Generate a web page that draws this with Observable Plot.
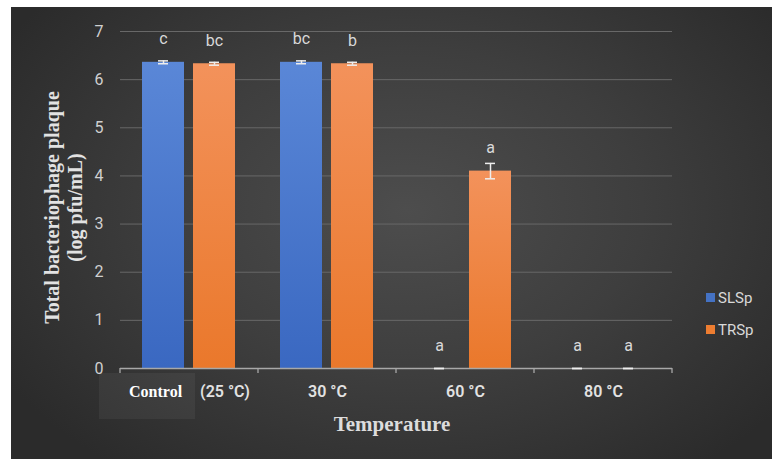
<!DOCTYPE html>
<html>
<head>
<meta charset="utf-8">
<script src="https://cdn.jsdelivr.net/npm/d3@7"></script>
<script src="https://cdn.jsdelivr.net/npm/@observablehq/plot@0.6"></script>
<style>
html, body { margin: 0; padding: 0; background: #ffffff; }
#wrap {
  position: absolute; left: 11px; top: 7px; width: 761px; height: 452px; overflow: hidden;
  background: radial-gradient(ellipse 62% 72% at 52% 45%, #4d4d4d 0%, #3e3e3e 50%, #2b2b2b 100%);
}
#ctrlbox { position: absolute; left: 88px; top: 366px; width: 96px; height: 46px; background: rgba(255,255,255,0.05); }
#chart { position: absolute; left: 0; top: 0; }
#legend { position: absolute; left: 695px; top: 282px; font-family: Roboto, "Liberation Sans", sans-serif; font-size: 15px; color: #d9d9d9; }
#legend .item { display: flex; align-items: center; height: 17px; margin-bottom: 15px; }
#legend .sw { width: 9px; height: 9px; margin-right: 3px; }
</style>
</head>
<body>
<div id="wrap">
  <div id="ctrlbox"></div>
  <div id="chart"></div>
  <div id="legend"></div>
</div>
<script>
// ---- data ----
const categories = ["Control (25 °C)", "30 °C", "60 °C", "80 °C"];
const seriesNames = ["SLSp", "TRSp"];
const seriesColors = ["#4472C4", "#ED7D31"];
const slspValues = [6.36, 6.36, 0, 0];
const trspValues = [6.33, 6.33, 4.10, 0];
const slspErrors = [0.03, 0.03, 0, 0];
const trspErrors = [0.03, 0.03, 0.16, 0];
const slspLetters = ["c", "bc", "a", "a"];
const trspLetters = ["bc", "b", "a", "a"];
const yTicks = [0, 1, 2, 3, 4, 5, 6, 7];
const yTitle = ["Total bacteriophage plaque", "(log pfu/mL)"];
const xTitle = "Temperature";

const data = categories.flatMap((c, i) => [
  {temp: c, series: seriesNames[0], value: slspValues[i], err: slspErrors[i], letter: slspLetters[i]},
  {temp: c, series: seriesNames[1], value: trspValues[i], err: trspErrors[i], letter: trspLetters[i]}
]);

const sans = "Roboto, 'Liberation Sans', sans-serif";
const serif = "'Liberation Serif', 'DejaVu Serif', serif";

const chart = Plot.plot({
  width: 761, height: 452,
  marginLeft: 109, marginRight: 100, marginTop: 24, marginBottom: 91,
  style: {background: "transparent", color: "#d9d9d9", fontFamily: sans, overflow: "visible"},
  fx: {domain: categories, padding: 0, label: null, axis: null},
  x: {domain: seriesNames, paddingInner: 0.173, paddingOuter: 0.4135, axis: null},
  y: {domain: [0, 7], axis: null},
  color: {domain: seriesNames, range: ["url(#gSLSp)", "url(#gTRSp)"]},
  marks: [
    Plot.gridY(yTicks.slice(1), {stroke: "#686868", strokeOpacity: 1, strokeWidth: 1}),
    Plot.axisY(yTicks, {tickSize: 0, tickPadding: 17, fontSize: 16, fill: "#d0d0d0", label: null}),
    Plot.barY(data, {fx: "temp", x: "series", y: "value", fill: "series"}),
    Plot.ruleY([0], {stroke: "#a8a8a8", strokeWidth: 1.3}),
    Plot.ruleX(data, {fx: "temp", x: "series", y1: d => d.value - d.err, y2: d => d.value + d.err, stroke: "#eeeeee", strokeWidth: 1.5}),
    Plot.tickY(data, {fx: "temp", x: "series", y: d => d.value + d.err, stroke: "#eeeeee", strokeWidth: 1.5, insetLeft: 16, insetRight: 16}),
    Plot.tickY(data, {fx: "temp", x: "series", y: d => d.value - d.err, stroke: "#eeeeee", strokeWidth: 1.5, insetLeft: 16, insetRight: 16}),
    Plot.text(data, {fx: "temp", x: "series", y: "value", text: "letter", dy: -18, lineAnchor: "bottom", fontSize: 16, fill: "#d9d9d9"}),
    Plot.axisFx({anchor: "bottom", tickSize: 0, tickPadding: 17, fontSize: 16, fontWeight: 600, fill: "#e2e2e2", label: null})
  ]
});

const svg = d3.select(chart);
// gradients for bars
const defs = svg.insert("defs", ":first-child");
const grads = [["gSLSp", "#5a87d7", "#3a68c1"], ["gTRSp", "#f3925b", "#ea782b"]];
for (const [id, top, bottom] of grads) {
  const g = defs.append("linearGradient").attr("id", id).attr("x1", 0).attr("y1", 0).attr("x2", 0).attr("y2", 1);
  g.append("stop").attr("offset", "0%").attr("stop-color", top);
  g.append("stop").attr("offset", "100%").attr("stop-color", bottom);
}

// category boundary ticks on the x axis, from the fx scale
const fx = chart.scale("fx"), ys = chart.scale("y");
const y0 = ys.apply(0);
const bounds = categories.map(c => fx.apply(c)).concat([fx.apply(categories[categories.length - 1]) + fx.bandwidth]);
svg.append("g").selectAll("line").data(bounds).join("line")
  .attr("x1", d => d).attr("x2", d => d).attr("y1", y0).attr("y2", y0 + 5)
  .attr("stroke", "#a8a8a8").attr("stroke-width", 1.3);

// split the control label into two styled parts
const [ctrlWord, ...ctrlRest] = categories[0].split(" ");
svg.selectAll("text").filter(function () { return this.textContent === categories[0]; })
  .each(function () {
    const t = d3.select(this);
    t.text(null);
    t.append("tspan").attr("font-family", serif).attr("font-weight", "bold").attr("font-size", 16).attr("fill", "#ffffff").text(ctrlWord);
    t.append("tspan").attr("dx", 18).text(ctrlRest.join(" "));
  });

// axis titles
const yCenter = (ys.apply(0) + ys.apply(7)) / 2 + 8;
const ty = svg.append("g").attr("font-family", serif).attr("font-weight", "bold").attr("font-size", 20).attr("fill", "#e2e2e2").attr("text-anchor", "middle");
[41, 64].forEach((x, i) => {
  ty.append("text").attr("transform", `translate(${x},${yCenter}) rotate(-90)`).attr("dominant-baseline", "central").text(yTitle[i]);
});
svg.append("text").attr("x", (fx.apply(categories[0]) + bounds[bounds.length - 1]) / 2 - 4).attr("y", 417)
  .attr("font-family", serif).attr("font-weight", "bold").attr("font-size", 21).attr("fill", "#dcdcdc")
  .attr("text-anchor", "middle").attr("dominant-baseline", "central").text(xTitle);

document.getElementById("chart").appendChild(chart);

// legend
const legend = d3.select("#legend");
seriesNames.forEach((s, i) => {
  const it = legend.append("div").attr("class", "item");
  it.append("div").attr("class", "sw").style("background", seriesColors[i]);
  it.append("span").text(s);
});
</script>
</body>
</html>
